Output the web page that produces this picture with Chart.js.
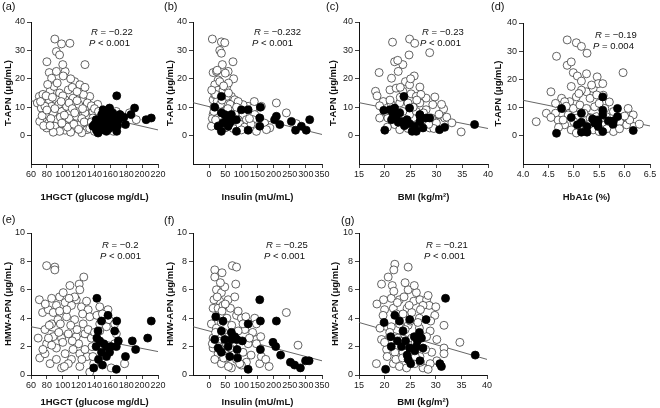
<!DOCTYPE html>
<html>
<head>
<meta charset="utf-8">
<script src="https://cdn.jsdelivr.net/npm/chart.js@4/dist/chart.umd.min.js"></script>
<style>
    html, body { margin: 0; padding: 0; background: #fff; }
    #wrap { position: relative; width: 660px; height: 408px; }
    #wrap canvas { position: absolute; left: 0; top: 0; }
</style>
</head>
<body>
<div id="wrap"></div>
<script>
// ─────────────────────────────────────────────
// DATA
// ─────────────────────────────────────────────
const glucoseTicks = [60, 80, 100, 120, 140, 160, 180, 200, 220];
const insulinTicks = [0, 50, 100, 150, 200, 250, 300, 350];
const bmiTicks = [15, 20, 25, 30, 35, 40];
const hba1cTicks = [4.0, 4.5, 5.0, 5.5, 6.0, 6.5];
const tapnTicks = [0, 10, 20, 30, 40];
const hmwTicks = [0, 2, 4, 6, 8, 10];

const panelTags = ['(a)', '(b)', '(c)', '(d)', '(e)', '(f)', '(g)'];
const rLabels = ['−0.22', '−0.232', '−0.23', '−0.19', '−0.2', '−0.25', '−0.21'];
const pLabels = ['< 0.001', '< 0.001', '< 0.001', '= 0.004', '< 0.001', '< 0.001', '< 0.001'];

// (a) T-APN vs 1HGCT
const aOpen = [[90,34],[109,32.5],[98.5,32.3],[92,29.6],[96,28.4],[128,25],[80,26],[83,22.2],[92,22.6],[103,22.6],[86,20.2],[100.6,21],[115,19],[121.5,17.9],[70.5,13.8],[68,11.5],[73,9.7],[84,15.6],[89,17.3],[96,15],[107,16.1],[112,17],[83,12.6],[92,12.6],[103,12.6],[113,13.2],[123.6,12.6],[134,13.8],[77.6,7.4],[88,8],[98.5,8.5],[109,8],[118,9.1],[128,8],[138,8.5],[71,5],[82,4.4],[92,5.6],[103,3.9],[111,5],[121.5,3.9],[132,4.4],[79.7,2.7],[90,3.3],[103,1.9],[115,2.7],[130.7,2.1],[146.6,3.9],[150.8,7.4],[167.5,8.5],[172,7.4],[164,1.5],[192.6,5.6],[184,8],[104.8,10.3],[117,6.8],[130,10.3],[138,6.2],[86,10.3],[77.6,10.3],[95,11],[108,11.5],[120,11],[126,14.5],[100,14],[93,18.5],[110,20],[118,15.5],[81,18],[75,14.5],[85,6],[97,6.5],[108,6],[124,6],[134,2.5],[76,3.5],[96,1.5],[110,1.2],[124,1],[140,1.5],[144,11],[100,25],[112,9.5],[88,1.2],[74,7],[128,17],[106,3],[72,12],[79,14],[87,13.5],[98,12],[118,12.3],[131,11.5],[136,10.5],[125,9.5],[115,8],[102,7.2],[90,9.5],[80,9],[84,3.5],[99,4.4],[114,4],[127,4.8],[136,4.8],[120,2.2],[140,9.5],[145,8.5]];
const aFilled = [[168,14],[159,9.7],[150.8,9.1],[190.5,9.7],[186,7.4],[179,3.9],[205,5.6],[211.5,6.2],[168,1.5],[155,1.5],[142.4,1.9],[140,3.9],[146.6,4.4],[153,3.3],[159,4.4],[165,5.6],[172,7.4],[142,5.6],[150.8,6.2],[146.6,2.7],[157,7.4],[163,8],[169,3.5],[149,7.4],[138,3.3],[144.5,0.9],[147,5.2],[155,5.6],[161,6.3],[152,3.9],[158,2.4],[162,3.2],[148,1.9],[170,5.5],[177,6.5]];
const aFit = [[60,12.3],[220,2.0]];

// (b) T-APN vs insulin
const bOpen = [[10,34],[38,33],[48.5,32.7],[33,30],[38,29],[41,25],[74,26],[59,22.6],[76,20],[12.4,22.2],[22.7,22.6],[28,19.6],[17.5,17.9],[33,19],[12.4,12.6],[28,16],[43,16],[54,17],[69,13.8],[79.5,12.6],[12.4,7.4],[22.7,9.1],[38,10.9],[53.7,11.5],[74,10.3],[95,9.1],[105,7.4],[17.5,3.9],[33,5.6],[48.5,2.7],[69,5],[90,5.6],[64,8],[43,8],[7,3.3],[54,13.8],[17.5,14.4],[121,10.3],[136,9.7],[162,10.3],[141.5,7.4],[157,6.2],[136,5.6],[146.6,1.5],[172,4.4],[188,2.7],[208.5,11.5],[239.5,8],[270.5,4.2],[115.6,5.6],[105,10.9],[177.6,2.1],[25,12],[60,15],[70,9],[90,12],[45,6],[30,7],[15,10],[10,6],[55,3],[75,2.5],[95,4],[110,3],[130,4],[20,14.5],[35,11],[65,11],[80,7.5],[100,2],[140,12],[50,22],[60,18.5],[8,16],[25,23],[45,17.5],[125,6],[20,5.5],[40,12.5],[58,9.5],[85,10],[15,8.5],[30,3.5]];
const bFilled = [[17.5,10],[38,13.8],[28,3.3],[38,1.5],[38,8],[48.5,7.4],[54,5],[59,3.3],[69,7.4],[72,5.6],[84.7,5.6],[84.7,1.5],[100,9.1],[121,9.1],[121,1.9],[159,10],[157,6.2],[157,3.3],[203,5.6],[208.5,6.8],[219,3.9],[255,5],[268,1.9],[286,3.3],[301,1.9],[311.8,5.6],[54,6.2],[43,4.4],[64,4.4]];
const bFit = [[-50,11.6],[350,0.4]];

// (c) T-APN vs BMI
const cOpen = [[21.5,32.9],[24.8,34],[25.8,32.5],[24.7,28.4],[28.7,29.2],[18.9,22.2],[21.9,26],[23.5,25],[22.6,22.6],[21.3,20.2],[24,19],[24.8,17.9],[25.7,21],[26.8,17.1],[18.2,15.6],[21,16.1],[22.2,16.7],[23.5,15.6],[25.1,14.7],[26.1,13.8],[28,13.2],[29.7,13.6],[19.7,12],[21.3,10.9],[22.9,11.5],[24.5,11.5],[26.8,11.5],[29.3,10.9],[31.4,9.4],[19,6.2],[20.6,6.2],[21.9,3.9],[22.9,2.1],[24.8,7.4],[26.1,8.5],[28,9.1],[29,6.2],[30,4.4],[28.7,2.7],[31.6,6.2],[34.8,1.3],[26.8,3.3],[27.4,5.6],[20,8.5],[23.5,8.5],[19,10.5],[23,13.5],[25.5,10],[27.5,8],[22,7],[24,5],[20.5,3],[26,3.8],[29.5,2.5],[31,11],[30.5,7.5],[27,14.5],[23,17],[21,12.5],[18.5,14],[25,20],[22.5,26.5],[26.2,12.5],[28.5,4],[24.5,2.5],[32,6.5],[33,4.5]];
const cFilled = [[19.8,8.9],[21,9.1],[21.9,9.7],[23.7,13.8],[24.8,9.7],[20,1.9],[21.3,5.6],[22.2,6.2],[22.9,8],[23.2,5],[23.8,3.5],[24.3,5.6],[24.8,4.2],[25.3,1.5],[26.1,1.5],[26.8,5],[26.8,7],[27.4,2.7],[28,6.2],[25.8,3.3],[22.6,4.7],[21.6,7.4],[30.6,2.1],[31.6,2.9],[37.4,3.9],[28.7,6.2],[26.8,7.4]];
const cFit = [[15,11.6],[40,2.5]];

// (d) T-APN vs HbA1c
const dOpen = [[4.87,34],[5.05,33],[5.15,31.7],[5.26,29.3],[4.66,28.2],[4.87,25],[4.95,26.2],[4.99,22.4],[5.07,21.2],[5.15,19.4],[5.97,22.4],[5.46,20.9],[4.55,15.6],[4.76,13.3],[4.92,12.1],[5.05,13.8],[5.25,15.6],[5.38,16.8],[5.48,18.5],[5.57,18.5],[5.15,16.2],[5.32,13.3],[4.46,8],[4.26,5],[4.64,11.5],[4.64,8],[4.79,9.7],[4.89,7.4],[4.99,9.7],[5.12,10.9],[5.25,9.7],[5.41,10.3],[5.61,9.7],[5.78,8.6],[6.07,9.7],[6.17,7.4],[5.84,5],[6.04,3.9],[6.29,4.1],[4.82,3.9],[4.95,2.1],[5.12,4.5],[5.25,2.7],[5.38,2.1],[5.55,3.9],[5.78,1.5],[4.69,5.6],[5.05,6.2],[5.45,6.8],[5.64,6.8],[5.32,6.2],[4.82,12.1],[5.58,14.4],[4.79,5.6],[5.3,4],[5.5,11.5],[5.7,12],[5.9,5],[6.1,5.6],[5.0,5],[4.85,10.5],[5.2,8],[5.45,14.5],[5.65,2.5],[4.7,3],[4.55,6.5],[5.1,15],[5.35,18],[5.25,22],[5.9,2.5],[6.0,7],[4.95,17.5],[5.05,1],[5.5,1.5]];
const dFilled = [[4.66,0.9],[4.76,9.7],[4.95,6.5],[5.15,8],[5.07,3.9],[5.15,4.8],[5.15,1.3],[5.26,3.3],[5.26,1.3],[5.37,6],[5.41,4.5],[5.46,5.6],[5.48,3.3],[5.57,13.8],[5.57,9.1],[5.57,7.4],[5.57,1.5],[5.68,5.3],[5.78,5.3],[5.77,4.1],[5.86,9.7],[5.86,6.8],[6.17,1.9],[5.48,5]];
const dFit = [[4.0,12.6],[6.5,3.5]];

// (e) HMW-APN vs 1HGCT
const eOpen = [[79.7,7.7],[90,7.6],[90,7.4],[126.5,6.9],[120.7,6.4],[109,6.3],[121.5,6],[70.5,5.3],[86,5.4],[96,5.5],[100.6,5.8],[117,5.3],[74.6,4.4],[81.8,4.6],[92,4.9],[103,5.1],[111,4.9],[123.6,4.8],[132,4.6],[146.6,4.8],[157,4.6],[69,2.6],[77.6,3.2],[86,3.6],[94,3.9],[104.8,4.1],[115,3.9],[125.7,3.6],[134,4.1],[146.6,3.6],[155,3.4],[158.3,3.9],[79.7,2.2],[88,2.7],[98.5,2.6],[107,2.9],[117,2.7],[128,2.9],[136,2.6],[146.6,3.1],[71,1.2],[77.6,1.5],[84,0.8],[92,1.9],[103,1.5],[111,1.1],[121.5,1.5],[130.7,1.3],[139,0.8],[98.5,0.5],[107,0.8],[121.5,0.6],[134,0.2],[157,1.6],[165.4,2.2],[161,0.5],[178,0.8],[167.5,2.9],[165.4,3.6],[100,2.3],[110,3.5],[95,3],[115,5.5],[125,4.3],[132,3.2],[88,4.4],[105,4.6],[120,2.2],[83,3.5],[92,1.1],[102,0.6],[128,1.8],[137,2],[140,3],[113,1.8],[78,5],[96,4.5],[108,5.4],[130,5.2],[118,3.2],[86,2.1],[75,1.8],[143,4.2],[150,4.3],[138,1.3],[97,3.6],[112,2.4],[124,1.1],[82,2.6]];
const eFilled = [[143,5.4],[148.8,3.8],[157,4.2],[168,3.8],[143,2.6],[146.6,2.4],[151.7,2.2],[155,2],[161,2],[142,2],[148.8,1.6],[155,1.3],[145,1.1],[150,0.7],[139,0.5],[167.5,0.4],[165.4,3.1],[170,2.4],[167.5,2],[179,1.3],[187.6,2.4],[191.8,1.8],[207,2.6],[211.5,3.8],[159,1.6],[144.5,3.1]];
const eFit = [[60,3.4],[220,1.65]];

// (f) HMW-APN vs insulin
const fOpen = [[17.5,7.4],[17.5,6.9],[72,7.7],[85,7.6],[82.6,6.4],[22.7,6],[38,5.8],[48.5,6.2],[59,5.3],[33,5.2],[12.4,4.7],[28,4.7],[43,4.9],[66,4.7],[79.5,5.5],[85,4.2],[100,4],[113.6,4.1],[141.5,4],[146.6,3.6],[239.5,4.4],[7,3.6],[22.7,3.3],[38,3.7],[12.4,2.6],[28,2.4],[12.4,1.9],[28,1.5],[17.5,1.1],[38,0.8],[53.7,1.2],[69,0.5],[33,1.8],[53.7,2.2],[69,1.5],[84.7,1.1],[59,1.8],[105,1.6],[121,2.2],[115.6,0.9],[100,0.7],[146.6,2.5],[146.6,2.2],[157,0.8],[162,1.3],[175.5,1.1],[186,0.6],[275.6,2.1],[110.5,3.2],[90,3.1],[20,3],[30,2],[45,3],[55,4],[60,2.7],[70,3.5],[75,2],[90,4.5],[15,5.3],[25,5.5],[40,4.5],[50,5],[35,6.5],[10,2.2],[45,1.2],[60,0.6],[95,0.8],[130,1.4],[135,3],[160,2.7],[40,7.2],[65,1.9],[105,3.6],[125,2.6]];
const fFilled = [[20.6,4.1],[17.5,2.5],[28,1.9],[38,1.6],[43,3.8],[48.5,2.5],[59,2],[38,3.1],[69,3],[69,2.5],[79.5,2.7],[86.7,2.5],[64,1.3],[86.7,1.8],[88,1.2],[103,2.4],[121,3.6],[121,0.4],[157,5.3],[159,3.8],[159,1.8],[198,2.3],[206.5,2],[208.5,3.8],[221.7,1.4],[252,0.9],[265,0.7],[283,0.5],[299,1],[310,1]];
const fFit = [[-50,3.4],[350,1.0]];

// (g) HMW-APN vs BMI
const gOpen = [[22,7.8],[21.8,7.4],[24.6,7.6],[20.7,6.9],[19.4,6.4],[21.5,6.3],[24.6,6],[26.2,5.8],[18.5,5],[21.3,5.4],[22.9,5.3],[23.8,5.5],[25.7,5.2],[26.9,5.3],[28.2,5.3],[28.7,4.9],[20,4.6],[21.7,4.7],[24.4,4.7],[27.5,4.9],[19.7,4.2],[22.3,4.3],[23.6,4.3],[25.3,4.4],[26.8,4],[29.8,4.2],[31.6,3.5],[19.1,3.3],[21.3,3.4],[22.9,3.6],[24.6,3.5],[26.8,3.3],[28.9,3.1],[19.4,2.5],[21,2.7],[22.6,2.6],[25.3,2.6],[28.2,2.7],[30.2,2.5],[34.7,2.3],[31.6,1.9],[31.6,1.5],[20.4,1.8],[22,1.6],[23.6,1.6],[24.9,1.9],[26.9,1.3],[29.2,1.6],[30.2,1],[18.4,0.8],[21.7,0.8],[22.9,0.6],[24.3,0.5],[25.9,0.8],[27.5,0.5],[28.9,0.8],[28.5,0.4],[22.2,1.1],[23,2.4],[24,3.2],[25,3.8],[26,2.3],[27,4.6],[22.5,5.1],[24,6.5],[25.8,6.3],[21,3],[20,2.3],[28,1.8],[27,0.9],[23.5,1.2],[24.8,4.9],[26.5,3.7],[29,3.8],[30,4.8],[19.8,5.3],[21.8,5.9],[28.5,5.6],[20.5,1.3],[26,1.3]];
const gFilled = [[19.9,3.7],[22,4.2],[22.9,3.8],[24.9,3.9],[28.1,3.9],[31.9,5.4],[20.2,0.4],[21.2,2.7],[21.3,2],[22.5,2.4],[23.3,2],[23.6,3.1],[24.1,2.4],[24.4,1.4],[24.9,1.9],[24.6,1.1],[25.1,0.8],[25.8,2.7],[25.9,1.7],[26.8,3],[26.4,2.4],[26.9,1],[27.2,2.6],[27.5,1.9],[30.8,0.8],[31.1,0.6],[37.7,1.4],[26.2,2]];
const gFit = [[15,3.7],[40,1.1]];


// ─────────────────────────────────────────────
// PANEL LAYOUT
// ─────────────────────────────────────────────
const FONT = '"Liberation Sans", Arial, Helvetica, sans-serif';
const TAPN = 'T-APN (μg/mL)';
const HMW = 'HMW-APN (μg/mL)';
const GLU = '1HGCT (glucose mg/dL)';
const INS = 'Insulin (mU/mL)';
const BMI = 'BMI (kg/m²)';

const panels = [
    { open: aOpen, filled: aFilled, fit: aFit, xTicks: glucoseTicks, xRange: [60, 220], yTicks: tapnTicks, yRange: [-10, 40], xTitle: GLU, yTitle: TAPN,
      area: [31, 22, 158, 164], yTitleX: 8, xTitleY: 197, tag: [2, 7], stat: [91, 32] },
    { open: bOpen, filled: bFilled, fit: bFit, xTicks: insulinTicks, xRange: [-50, 350], yTicks: tapnTicks, yRange: [-10, 40], xTitle: INS, yTitle: TAPN,
      area: [193, 22, 322, 164], yTitleX: 170, xTitleY: 197, tag: [164, 7], stat: [254, 32] },
    { open: cOpen, filled: cFilled, fit: cFit, xTicks: bmiTicks, xRange: [15, 40], yTicks: tapnTicks, yRange: [-10, 40], xTitle: BMI, yTitle: TAPN,
      area: [359, 22, 488, 164], yTitleX: 333, xTitleY: 197, tag: [326, 7], stat: [422, 32] },
    { open: dOpen, filled: dFilled, fit: dFit, xTicks: hba1cTicks, xRange: [4.0, 6.5], yTicks: tapnTicks, yRange: [-10, 40], xTitle: 'HbA1c (%)', yTitle: TAPN,
      area: [523, 23, 650, 164], yTitleX: 498, xTitleY: 197, tag: [491, 7], stat: [595, 35], dec: 1 },
    { open: eOpen, filled: eFilled, fit: eFit, xTicks: glucoseTicks, xRange: [60, 220], yTicks: hmwTicks, yRange: [0, 10], xTitle: GLU, yTitle: HMW,
      area: [31, 233, 158, 375], yTitleX: 8, xTitleY: 402, tag: [2, 220], stat: [102, 245] },
    { open: fOpen, filled: fFilled, fit: fFit, xTicks: insulinTicks, xRange: [-50, 350], yTicks: hmwTicks, yRange: [0, 10], xTitle: INS, yTitle: HMW,
      area: [193, 233, 322, 375], yTitleX: 170, xTitleY: 402, tag: [164, 221], stat: [266, 245] },
    { open: gOpen, filled: gFilled, fit: gFit, xTicks: bmiTicks, xRange: [15, 40], yTicks: hmwTicks, yRange: [0, 10], xTitle: BMI, yTitle: HMW,
      area: [359, 233, 487, 375], yTitleX: 335, xTitleY: 402, tag: [341, 221], stat: [426, 245] }
];

function toPts(arr) {
    return arr.map(p => ({ x: p[0], y: p[1] }));
}

function axisStyle() {
    return {
        grid: { display: true, drawOnChartArea: false, drawTicks: true, tickLength: 4, color: '#111', lineWidth: 0.8 },
        border: { display: true, color: '#111', width: 1 }
    };
}

// draws panel letter and the R / P statistics
function textPlugin(i, pn) {
    return {
        id: 'panelText' + i,
        afterDraw(chart) {
            const ctx = chart.ctx;
            ctx.save();
            ctx.fillStyle = '#111';
            ctx.textBaseline = 'middle';
            ctx.textAlign = 'left';

            ctx.font = '11px ' + FONT;
            ctx.fillText(panelTags[i], pn.tag[0], pn.tag[1]);

            const rows = [['R', ' = ' + rLabels[i]], ['P', ' ' + pLabels[i]]];
            rows.forEach((row, k) => {
                const x = pn.stat[0] - k * 2;
                const y = pn.stat[1] + k * 11.5;
                ctx.font = 'italic 9.5px ' + FONT;
                ctx.fillText(row[0], x, y);
                const w = ctx.measureText(row[0]).width;
                ctx.font = '9.5px ' + FONT;
                ctx.fillText(row[1], x + w, y);
            });
            ctx.restore();
        }
    };
}

const wrap = document.getElementById('wrap');
const LH = 11.4;

panels.forEach((pn, i) => {
    const cv = document.createElement('canvas');
    cv.width = 660;
    cv.height = 408;
    wrap.appendChild(cv);

    const [L, T, R, B] = pn.area;
    const yW = L - pn.yTitleX + LH / 2;
    const xH = pn.xTitleY + LH / 2 - B;

    const xAxis = axisStyle();
    const yAxis = axisStyle();

    new Chart(cv.getContext('2d'), {
        type: 'scatter',
        data: {
            datasets: [
                { data: toPts(pn.filled), pointRadius: 4, backgroundColor: '#000', borderColor: '#000', borderWidth: 0.8, order: 0 },
                { data: toPts(pn.open), pointRadius: 4, backgroundColor: '#fff', borderColor: '#222', borderWidth: 0.7, order: 1 },
                { type: 'line', data: toPts(pn.fit), borderColor: '#555', borderWidth: 0.9, pointRadius: 0, fill: false, order: 2 }
            ]
        },
        options: {
            responsive: false,
            animation: false,
            devicePixelRatio: 1,
            events: [],
            layout: { padding: { left: L - yW, top: T, right: 660 - R, bottom: 408 - B - xH } },
            plugins: { legend: { display: false }, tooltip: { enabled: false } },
            scales: {
                x: {
                    type: 'linear',
                    min: pn.xRange[0],
                    max: pn.xRange[1],
                    afterBuildTicks: s => { s.ticks = pn.xTicks.map(v => ({ value: v })); },
                    afterFit: s => { s.height = xH; },
                    grid: xAxis.grid,
                    border: xAxis.border,
                    ticks: {
                        autoSkip: false,
                        maxRotation: 0,
                        padding: 1,
                        color: '#1a1a1a',
                        font: { family: FONT, size: 9 },
                        callback: v => pn.dec ? v.toFixed(pn.dec) : v
                    },
                    title: { display: true, text: pn.xTitle, color: '#111', padding: 0, font: { family: FONT, size: 9.5, weight: 'bold' } }
                },
                y: {
                    type: 'linear',
                    min: pn.yRange[0],
                    max: pn.yRange[1],
                    afterBuildTicks: s => { s.ticks = pn.yTicks.map(v => ({ value: v })); },
                    afterFit: s => { s.width = yW; },
                    grid: yAxis.grid,
                    border: yAxis.border,
                    ticks: {
                        autoSkip: false,
                        padding: 2,
                        color: '#1a1a1a',
                        font: { family: FONT, size: 9 }
                    },
                    title: { display: true, text: pn.yTitle, color: '#111', padding: 0, font: { family: FONT, size: 9.5, weight: 'bold' } }
                }
            }
        },
        plugins: [textPlugin(i, pn)]
    });
});
</script>
</body>
</html>
